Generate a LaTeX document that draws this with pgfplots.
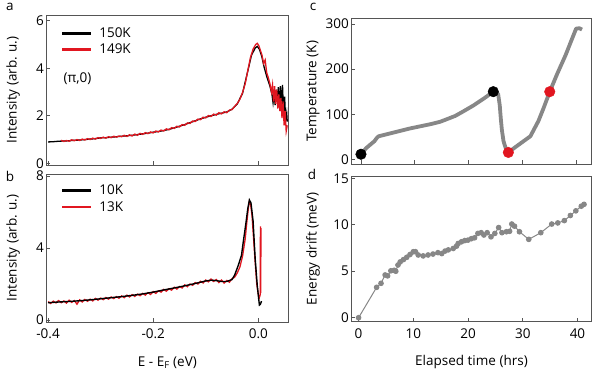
\documentclass[border=0pt]{standalone}
\usepackage{fontspec}
\setmainfont{Open Sans}
\usepackage{pgfplots}
\pgfplotsset{compat=1.18}

\definecolor{myred}{RGB}{225,22,32}
\definecolor{mygray}{RGB}{135,135,135}
\definecolor{frame}{RGB}{85,85,85}

\newcommand{\fs}{\fontsize{13.5}{15.5}\selectfont}

\pgfplotsset{
  panel/.style={
    scale only axis,
    axis line style={frame, line width=0.6pt},
    tick style={frame, line width=0.6pt},
    tick align=inside,
    major tick length=4pt,
    xtick pos=lower, ytick pos=left,
    /pgf/number format/assume math mode=true,
    ticklabel style={font=\fs},
    label style={font=\fs},
    yticklabel style={xshift=1pt},
    xticklabel style={yshift=-3pt},
    legend style={draw=none, fill=none, font=\fs, inner sep=0pt,
                  row sep=1pt, anchor=north west,
                  /tikz/every odd column/.append style={column sep=5pt}},
    legend cell align=left,
    legend image code/.code={\draw[##1, line width=2.6pt] (0pt,0pt) -- (29pt,0pt);},
  },
}

\begin{document}
\begin{tikzpicture}
\path[use as bounding box] (0,0) rectangle (598pt,-374pt);

% ---------- a ----------
\begin{axis}[panel,
  at={(46.5pt,-165pt)}, anchor=south west,
  width=241.8pt, height=150pt,
  xmin=-0.403, xmax=0.057, ymin=-0.07, ymax=6.24,
  xtick={-0.4,-0.2,0}, xticklabels={},
  ytick={0,2,4,6},
  ylabel={Intensity (arb. u.)},
  ylabel style={at={(axis description cs:-0.1385,0.5)}, anchor=center},
  legend style={at={(axis description cs:0.058,0.93)}},
]
\addplot[black, line width=1.3pt] coordinates {
(-0.40,0.90)(-0.39,0.91)(-0.38,0.93)(-0.37,0.94)(-0.36,0.95)(-0.35,0.97)
(-0.34,0.98)(-0.33,1.00)(-0.32,1.02)(-0.31,1.04)(-0.30,1.07)(-0.29,1.08)
(-0.28,1.10)(-0.27,1.12)(-0.26,1.14)(-0.25,1.16)(-0.24,1.18)(-0.23,1.21)
(-0.22,1.24)(-0.21,1.27)(-0.20,1.31)(-0.19,1.34)(-0.18,1.38)(-0.17,1.43)
(-0.16,1.49)(-0.15,1.56)(-0.14,1.63)(-0.13,1.71)(-0.12,1.79)(-0.11,1.87)
(-0.10,1.94)(-0.09,2.00)(-0.08,2.06)(-0.07,2.11)(-0.06,2.16)(-0.05,2.28)
(-0.04,2.50)(-0.03,2.95)(-0.022,3.70)(-0.013,4.55)(-0.006,4.85)(-0.002,4.92)
(0.002,4.80)(0.0065,4.50)(0.011,4.05)(0.016,3.65)(0.022,3.25)(0.026,2.90)
(0.028,2.55)(0.030,2.95)(0.032,2.45)(0.034,3.10)(0.036,2.60)(0.038,3.20)
(0.040,2.40)(0.042,3.25)(0.044,2.30)(0.046,3.30)(0.048,2.00)(0.050,2.80)
(0.052,1.80)(0.054,2.10)(0.055,1.75)
};
\addlegendentry{150K}
\addplot[myred, line width=1.3pt] coordinates {
(-0.375,0.97)(-0.370,0.92)(-0.365,0.96)(-0.360,0.93)(-0.355,0.99)(-0.350,0.95)
(-0.345,1.00)(-0.340,0.96)(-0.335,1.02)(-0.330,0.98)(-0.325,1.04)(-0.320,1.00)
(-0.315,1.06)(-0.310,1.02)(-0.305,1.08)(-0.300,1.05)(-0.295,1.10)(-0.290,1.06)
(-0.285,1.12)(-0.280,1.08)(-0.275,1.14)(-0.270,1.10)(-0.265,1.15)(-0.260,1.12)
(-0.255,1.18)(-0.250,1.13)(-0.245,1.20)(-0.240,1.15)(-0.235,1.23)(-0.230,1.18)
(-0.225,1.26)(-0.220,1.22)(-0.215,1.29)(-0.210,1.25)(-0.205,1.32)(-0.200,1.28)
(-0.195,1.36)(-0.190,1.32)(-0.185,1.40)(-0.180,1.36)(-0.175,1.45)(-0.170,1.41)
(-0.165,1.50)(-0.160,1.47)(-0.155,1.56)(-0.150,1.53)(-0.145,1.63)(-0.140,1.60)
(-0.135,1.70)(-0.130,1.68)(-0.125,1.78)(-0.120,1.76)(-0.115,1.86)(-0.110,1.84)
(-0.105,1.94)(-0.100,1.91)(-0.095,2.01)(-0.090,1.97)(-0.085,2.07)(-0.080,2.03)
(-0.075,2.13)(-0.070,2.08)(-0.065,2.17)(-0.060,2.13)(-0.055,2.24)(-0.050,2.26)
(-0.045,2.40)(-0.040,2.52)(-0.035,2.70)(-0.030,2.98)(-0.025,3.35)(-0.020,3.90)
(-0.015,4.45)(-0.010,4.80)(-0.005,5.00)(-0.002,5.05)(0.001,4.95)(0.004,4.75)
(0.007,4.55)(0.010,4.20)(0.013,4.35)(0.016,3.80)(0.019,3.60)(0.022,3.35)
(0.025,3.00)(0.027,3.30)(0.029,2.60)(0.031,3.25)(0.033,2.50)(0.035,3.10)
(0.037,2.30)(0.039,2.90)(0.041,2.20)(0.043,2.75)(0.045,1.90)(0.047,2.60)
(0.049,1.60)(0.051,2.20)(0.053,1.35)(0.055,1.60)
};
\addlegendentry{149K}
\node[font=\fs, anchor=west] at (axis description cs:0.056,0.573) {(π,0)};
\end{axis}

% ---------- b ----------
\begin{axis}[panel,
  at={(46.5pt,-322pt)}, anchor=south west,
  width=241.8pt, height=148pt,
  xmin=-0.403, xmax=0.057, ymin=-0.11, ymax=8.11,
  xtick={-0.4,-0.2,0}, xticklabels={-0.4,-0.2,0.0},
  ytick={0,4,8},
  ylabel={Intensity (arb. u.)},
  ylabel style={at={(axis description cs:-0.1385,0.5)}, anchor=center},
  xlabel={E - E\textsubscript{F} (eV)},
  xlabel style={at={(axis description cs:0.5,-0.277)}, anchor=center},
  legend style={at={(axis description cs:0.058,0.94)}},
]
\addlegendimage{black, line width=1.3pt}
\addlegendentry{10K}
\addplot[myred, line width=1.3pt] coordinates {
(-0.400,1.02)(-0.395,0.92)(-0.390,1.05)(-0.385,0.95)(-0.380,1.08)(-0.375,0.96)
(-0.370,1.06)(-0.365,0.94)(-0.360,1.10)(-0.355,0.98)(-0.350,1.08)(-0.345,0.88)
(-0.340,1.12)(-0.335,1.00)(-0.330,1.14)(-0.325,1.04)(-0.320,1.16)(-0.315,1.06)
(-0.310,1.20)(-0.305,1.10)(-0.300,1.22)(-0.295,1.13)(-0.290,1.25)(-0.285,1.16)
(-0.280,1.28)(-0.275,1.19)(-0.270,1.30)(-0.265,1.21)(-0.260,1.34)(-0.255,1.24)
(-0.250,1.38)(-0.245,1.28)(-0.240,1.41)(-0.235,1.31)(-0.230,1.44)(-0.225,1.35)
(-0.220,1.48)(-0.215,1.38)(-0.210,1.52)(-0.205,1.42)(-0.200,1.58)(-0.195,1.48)
(-0.190,1.62)(-0.185,1.55)(-0.180,1.70)(-0.175,1.60)(-0.170,1.74)(-0.165,1.66)
(-0.160,1.82)(-0.155,1.72)(-0.150,1.86)(-0.145,1.78)(-0.140,1.95)(-0.135,1.85)
(-0.130,2.00)(-0.125,1.93)(-0.120,2.08)(-0.115,2.00)(-0.110,2.15)(-0.105,2.06)
(-0.100,2.22)(-0.095,2.12)(-0.090,2.28)(-0.085,2.14)(-0.080,2.25)(-0.075,2.08)
(-0.070,2.22)(-0.065,2.05)(-0.060,2.20)(-0.055,2.10)(-0.050,2.30)(-0.045,2.38)
(-0.040,2.62)(-0.035,2.95)(-0.030,3.55)(-0.025,4.50)(-0.022,5.40)(-0.019,6.20)
(-0.017,6.60)(-0.015,6.50)(-0.012,5.80)(-0.009,4.50)(-0.006,3.20)(-0.003,2.00)
(0.000,1.40)(0.002,1.25)(0.0035,1.40)(0.004,5.20)(0.0045,1.50)(0.005,5.10)
};
\addlegendentry{13K}
\addplot[black, line width=1.4pt, forget plot] coordinates {
(-0.40,0.96)(-0.38,1.00)(-0.36,1.03)(-0.34,1.07)(-0.32,1.12)(-0.30,1.18)
(-0.28,1.24)(-0.26,1.30)(-0.24,1.37)(-0.22,1.45)(-0.20,1.55)(-0.18,1.67)
(-0.16,1.78)(-0.14,1.90)(-0.12,2.03)(-0.10,2.17)(-0.09,2.21)(-0.08,2.19)
(-0.07,2.14)(-0.06,2.14)(-0.05,2.25)(-0.045,2.50)(-0.038,3.05)(-0.032,3.60)
(-0.0286,4.35)(-0.024,5.30)(-0.020,6.20)(-0.017,6.67)(-0.014,6.50)(-0.010,5.50)
(-0.006,3.40)(-0.002,1.90)(0.002,0.83)(0.004,0.88)(0.006,1.05)
};
\end{axis}

% ---------- c ----------
\begin{axis}[panel,
  at={(351.3pt,-164.5pt)}, anchor=south west,
  width=240.4pt, height=146.2pt,
  xmin=-1.8, xmax=42.9, ymin=-11.8, ymax=313,
  xtick={0,10,20,30,40}, xticklabels={},
  ytick={0,100,200,300},
  ylabel={Temperature (K)},
  ylabel style={at={(axis description cs:-0.159,0.5)}, anchor=center},
]
\addplot[mygray, line width=3.8pt, line join=round] coordinates {
(0,11)(0.5,18)(1,25)(1.5,30)(2,35)(2.5,40)(3,48)(3.3,51)(5,56)(7,62)(9,68)
(11,73)(13,78)(14.7,83)(16,89)(17.5,96)(19,106)(21,120)(23,136)(24.6,150)
(25.5,145)(25.8,120)(26.0,90)(26.2,65)(26.5,40)(26.9,25)(27.4,15)(28.5,25)
(30,38)(31.5,51)(33,85)(34,115)(35.1,150)(36.5,190)(38,230)(39.5,275)
(40,290)(40.6,291)(41.1,288)
};
\addplot[only marks, mark=*, mark size=5.3pt, black] coordinates {(0,11)(24.6,150)};
\addplot[only marks, mark=*, mark size=5.3pt, myred, mark options={draw=myred, fill=myred}] coordinates {(27.4,15)(35.1,150)};
\end{axis}

% ---------- d ----------
\begin{axis}[panel,
  at={(351.3pt,-321.7pt)}, anchor=south west,
  width=240.4pt, height=145.7pt,
  xmin=-1.33, xmax=42.6, ymin=-0.43, ymax=15.25,
  xtick={0,10,20,30,40},
  ytick={0,5,10,15},
  ylabel={Energy drift (meV)},
  ylabel style={at={(axis description cs:-0.159,0.5)}, anchor=center},
  xlabel={Elapsed time (hrs)},
  xlabel style={at={(axis description cs:0.5,-0.2745)}, anchor=center},
]
\addplot[mygray, line width=1pt, mark=*, mark size=2.3pt, mark options={draw=mygray, fill=mygray}] coordinates {
(0,0)(3.3,3.27)(4.1,3.7)(4.85,4.6)(5.3,4.5)(5.9,5.05)(6.5,5.1)(6.8,5.0)
(7.2,5.67)(7.6,6.0)(8.2,6.25)(8.8,6.5)(9.4,6.8)(10.0,7.1)(10.4,7.1)(10.9,6.75)
(11.8,6.65)(12.7,6.75)(13.6,6.85)(14.5,7.0)(15.2,6.9)(15.8,7.17)(16.4,7.3)
(17.3,7.45)(17.9,7.7)(18.2,7.99)(18.8,8.17)(19.4,8.3)(20.0,8.35)(20.6,8.5)
(21.2,8.6)(21.8,9.07)(22.4,9.15)(22.9,8.9)(23.5,9.15)(24.2,8.7)(24.9,9.07)
(25.6,9.7)(26.2,9.15)(27.0,9.25)(27.6,9.3)(28.0,10.08)(28.5,9.85)(29.4,9.25)
(31.1,8.43)(33.3,9.15)(35.3,10.08)(36.4,10.2)(37.6,10.45)(38.7,11.0)(39.7,11.5)
(40.7,12.0)(41.2,12.2)
};
\end{axis}

\node[font=\fs] at (10pt,-7pt) {a};
\node[font=\fs] at (10pt,-176pt) {b};
\node[font=\fs] at (313pt,-7pt) {c};
\node[font=\fs] at (312pt,-174pt) {d};
\end{tikzpicture}
\end{document}
